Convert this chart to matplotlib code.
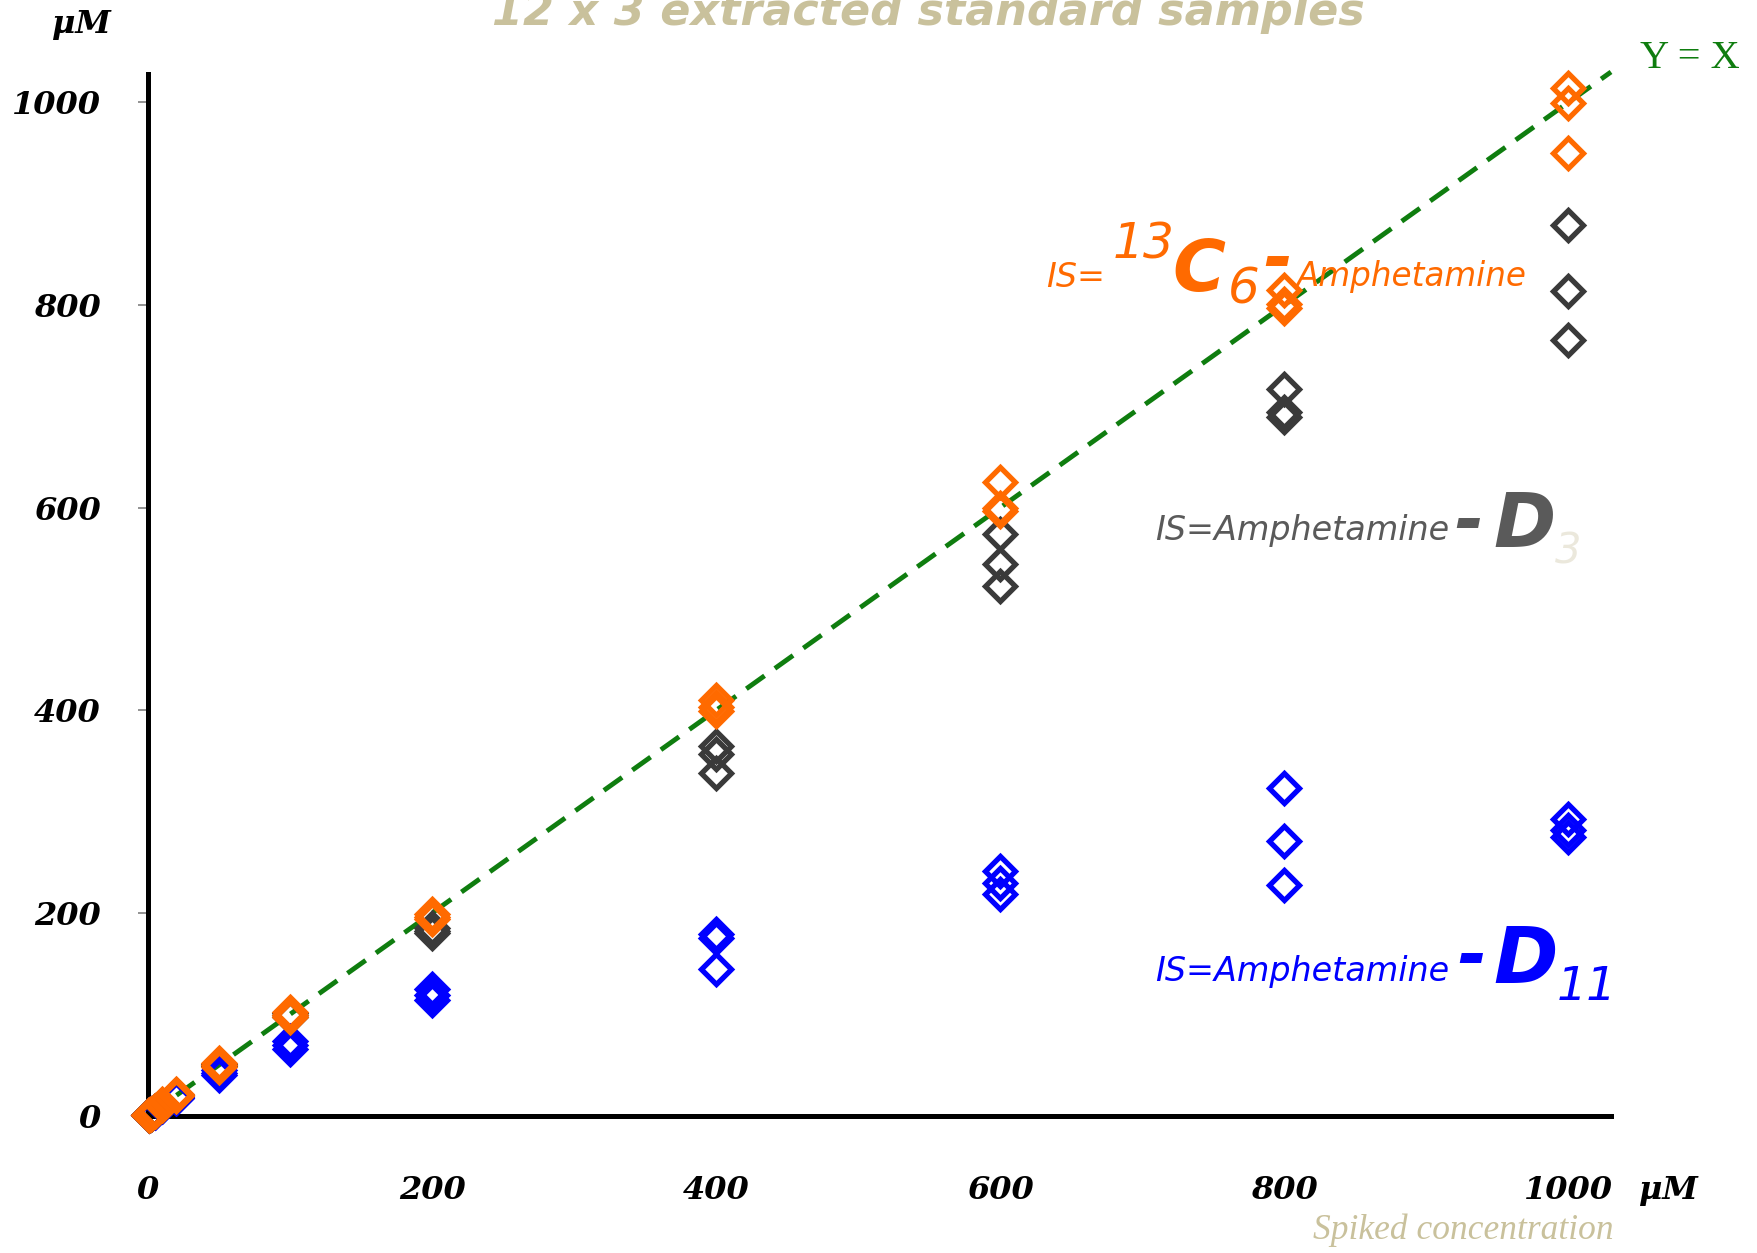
import numpy as np
import matplotlib
matplotlib.use("Agg")
from matplotlib import pyplot as plt

# concentraciones añadidas (uM) y 3 replicas por estandar interno
conc = np.array([1, 2, 5, 10, 20, 50, 100, 200, 400, 600, 800, 1000])

c13_rep1 = [1, 2, 5, 10, 21, 52, 102, 199, 410, 625, 815, 1014]
c13_rep2 = [1, 2, 5, 10, 20, 50, 99, 196, 403, 600, 801, 999]
c13_rep3 = [1, 2, 5, 11, 19, 48, 97, 194, 399, 597, 797, 950]

d3_rep1 = [1, 2, 5, 10, 20, 51, 101, 185, 365, 574, 717, 879]
d3_rep2 = [1, 2, 5, 10, 20, 50, 99, 182, 357, 544, 694, 814]
d3_rep3 = [1, 2, 5, 10, 19, 49, 97, 180, 338, 523, 689, 765]

d11_rep1 = [1, 2, 4, 9, 18, 45, 74, 125, 179, 241, 323, 293]
d11_rep2 = [1, 2, 4, 9, 17, 42, 70, 119, 175, 230, 271, 282]
d11_rep3 = [1, 2, 4, 9, 17, 40, 66, 114, 145, 219, 228, 275]

ticks = [0, 200, 400, 600, 800, 1000]

W, H = 1758, 1253
fig = plt.figure(figsize=(W / 100, H / 100), dpi=100)
ax = fig.add_axes([148 / W, 1 - 1115.6 / H, (1611 - 148) / W, (1115.6 - 74) / H])


def px(x, y):
    return x / W, 1 - y / H


naranja = '#ff6a00'
gris = '#3a3a3a'
azul = '#0000ff'
verde = '#0f7d0f'
tan = '#c9c19c'

# linea Y = X
ax.plot([0, 1030], [0, 1030], color=verde, lw=3.5, dashes=(4.6, 2.6),
        zorder=1, clip_on=False)

estilo = dict(ls='none', marker='D', markersize=15, markeredgewidth=3.8,
              markerfacecolor='none', clip_on=False)
for reps, col, z in [((d11_rep1, d11_rep2, d11_rep3), azul, 3),
                     ((d3_rep1, d3_rep2, d3_rep3), gris, 4),
                     ((c13_rep1, c13_rep2, c13_rep3), naranja, 5)]:
    for r in reps:
        ax.plot(conc, r, markeredgecolor=col, zorder=z, **estilo)

ax.set_xlim(0, 1030)
ax.set_ylim(0, 1028)
for s in ['top', 'right']:
    ax.spines[s].set_visible(False)
for s in ['left', 'bottom']:
    ax.spines[s].set_linewidth(3.6)
    ax.spines[s].set_color('black')

fuente_ejes = dict(family='DejaVu Serif', weight='bold', style='italic', size=23)
ax.set_xticks(ticks)
ax.set_xticklabels([str(t) for t in ticks], **fuente_ejes)
ax.set_yticks(ticks)
ax.set_yticklabels([str(t) for t in ticks], **fuente_ejes)
ax.tick_params(axis='x', length=0, pad=43)
ax.tick_params(axis='y', length=7, width=1.2, color='#808080', pad=27)

# unidades
fig.text(*px(81, 25), 'μM', ha='center', va='center', **fuente_ejes, color='black')
fig.text(*px(1668, 1190), 'μM', ha='center', va='center', **fuente_ejes, color='black')

# titulo (cortado arriba)
fig.text(*px(928, 25), '12 x 3 extracted standard samples', ha='center', va='baseline',
         family='DejaVu Sans', weight='bold', style='italic', size=32, color=tan)
fig.text(*px(1463, 1230), 'Spiked concentration', ha='center', va='center',
         family='Liberation Serif', style='italic', size=25.5, color=tan)
fig.text(*px(1690, 58), 'Y = X', ha='center', va='center',
         family='Liberation Serif', size=29, color=verde)

# etiqueta 13C6
sans = dict(family='DejaVu Sans', style='italic', va='baseline', ha='left')
fig.text(*px(1046, 287), 'IS=', size=24, color=naranja, **sans)
fig.text(*px(1113, 258), '13', size=35, color=naranja, **sans)
fig.text(*px(1172, 291), 'C', size=52, weight='bold', color=naranja, **sans)
fig.text(*px(1228, 303), '6', size=36, color=naranja, **sans)
fig.text(*px(1263, 281), '-', size=50, weight='bold', color=naranja, **sans)
fig.text(*px(1297, 286), 'Amphetamine', size=23.5, color=naranja, **sans)

# etiqueta D3
fig.text(*px(1155, 540), 'IS=Amphetamine', size=24, color='#5a5a5a', **sans)
fig.text(*px(1454, 543), '-', size=50, weight='bold', color='#5a5a5a', **sans)
fig.text(*px(1493, 547), 'D', size=54, weight='bold', color='#5a5a5a', **sans)
fig.text(*px(1555, 563), '3', size=30, color='#ebe8dc', **sans)

# etiqueta D11
fig.text(*px(1155, 981), 'IS=Amphetamine', size=24, color=azul, **sans)
fig.text(*px(1457, 978), '-', size=50, weight='bold', color=azul, **sans)
fig.text(*px(1493, 983), 'D', size=56, weight='bold', color=azul, **sans)
fig.text(*px(1557, 1000), '11', size=34, color=azul, **sans)

fig.savefig('out.png', dpi=100)
